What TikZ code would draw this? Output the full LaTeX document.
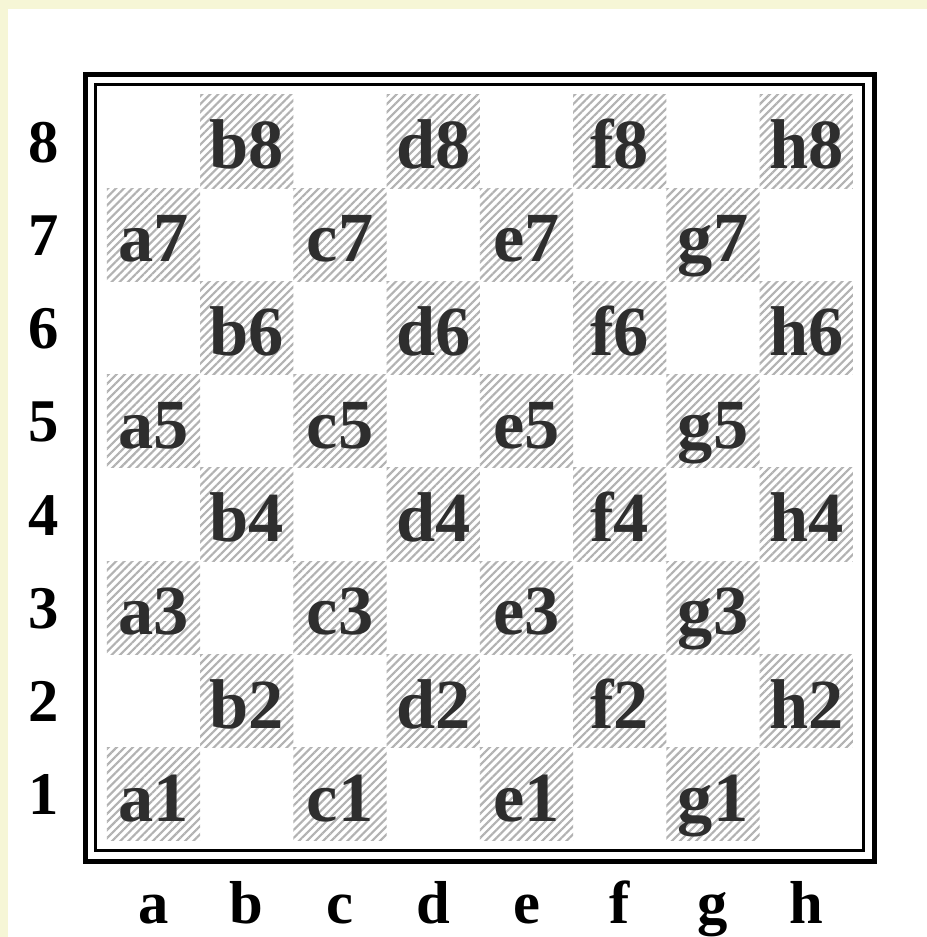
\documentclass[tikz,border=0pt]{standalone}
\usepackage{fontspec}
\setmainfont{Liberation Serif}
\usetikzlibrary{patterns.meta, positioning}

\definecolor{cream}{HTML}{F6F6D6}

\tikzset{
  dark square/.style={pattern={Lines[angle=45, distance=1.75pt, line width=0.65pt]}, pattern color=gray!60},
  square label/.style={anchor=base, inner sep=0pt, text=black!82, font=\bfseries\fontsize{21.5}{24}\selectfont},
  edge label/.style={anchor=base, inner sep=0pt, font=\bfseries\fontsize{18.5}{20}\selectfont},
}

\begin{document}
\begin{tikzpicture}

\useasboundingbox (-1.147, -1.030) rectangle (8.794, 9.019);
\fill [cream] (-1.147, -1.030) rectangle (8.794, 9.019);
\fill [white] (-1.061, -1.030) rectangle (8.794, 8.922);

% dark squares with their names
\foreach \f [count=\i from 0] in {a,b,c,d,e,f,g,h} {
  \foreach \r in {1,...,8} {
    \pgfmathtruncatemacro{\dark}{mod(\i+\r,2)}
    \ifnum\dark=1
      \fill [dark square] (\i, \r-1) rectangle ++(1, 1);
      \node [square label] (sq-\f\r) at (\i+0.5, \r-0.79) {\f\r};
    \fi
  }
}

% frame
\draw [line width=1pt] (-0.12, -0.105) rectangle (8.11, 8.115);
\draw [line width=1.6pt] (-0.23, -0.222) rectangle (8.23, 8.223);

% ranks and files
\foreach \r in {1,...,8}
  \node [edge label] (rank-\r) at (-0.676, \r-0.72) {\r};
\foreach \f [count=\i from 0] in {a,b,c,d,e,f,g,h}
  \node [edge label] (file-\f) at (\i+0.5, -0.88) {\f};

\end{tikzpicture}
\end{document}
